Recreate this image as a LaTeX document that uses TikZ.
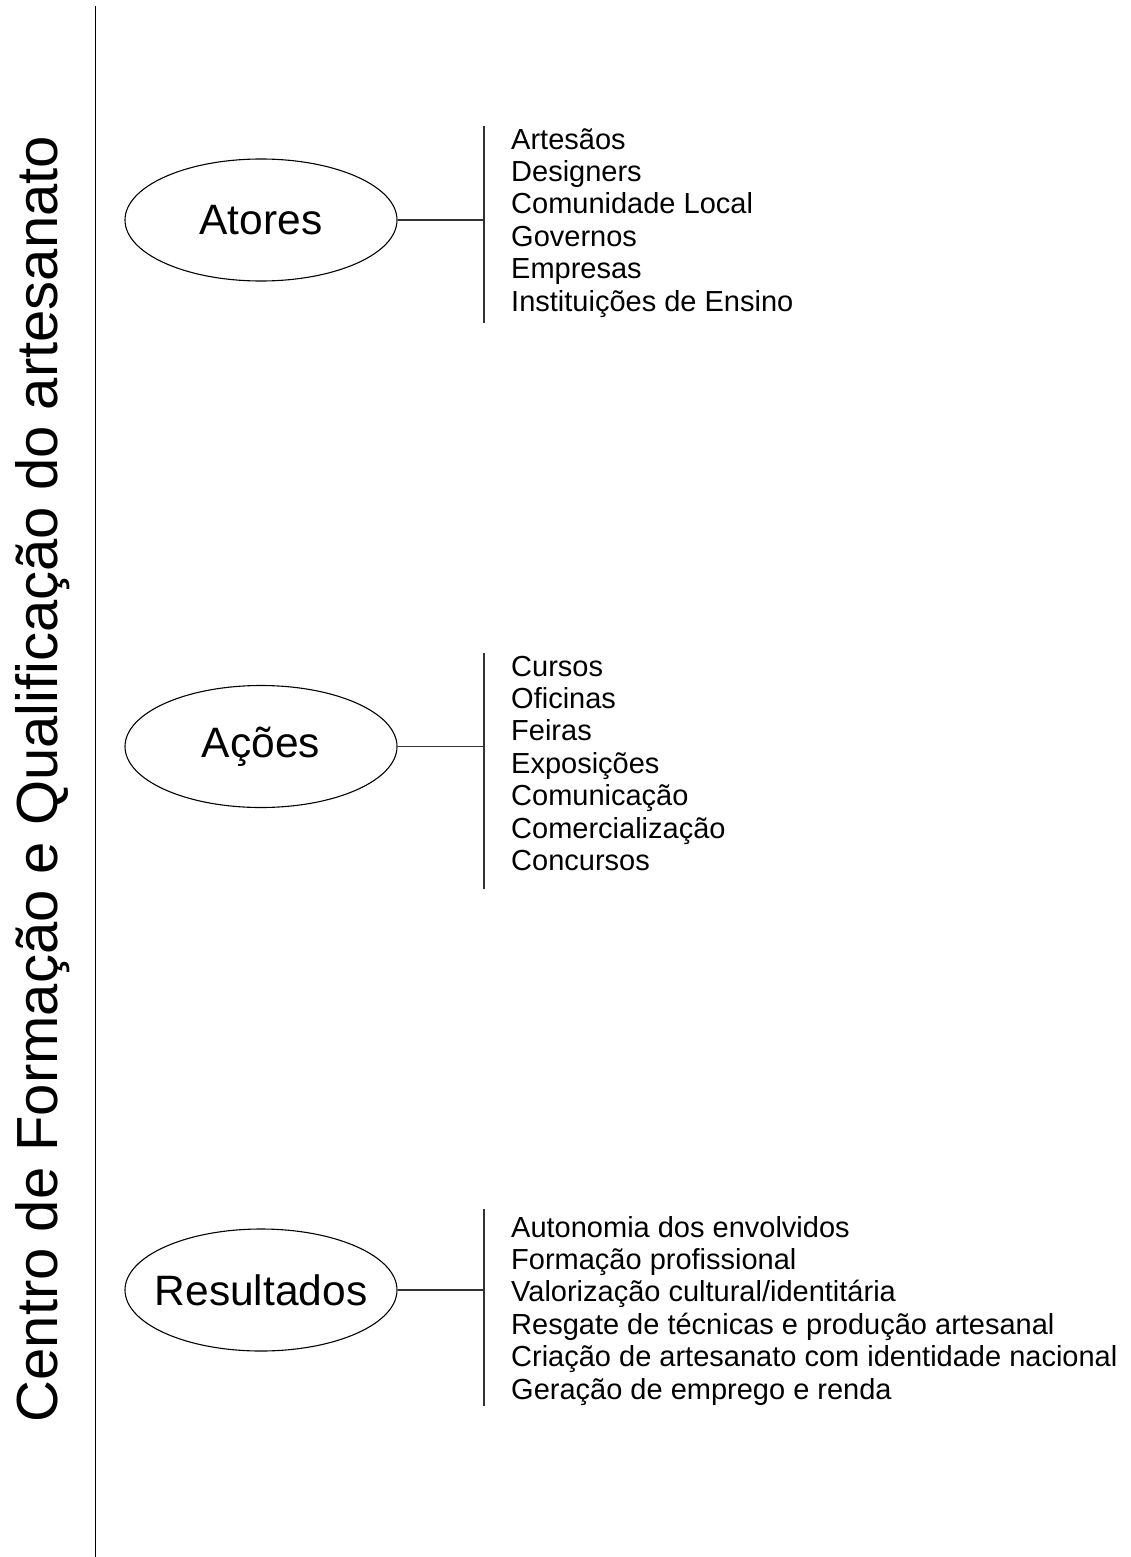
\documentclass[tikz,border=0pt]{standalone}
\usepackage{fontspec}
\setmainfont{Liberation Sans}
\usetikzlibrary{shapes.geometric}

\begin{document}
\begin{tikzpicture}[x=1pt,y=1pt,yscale=-1,
    bubble/.style={draw, ellipse, line width=1.1pt, minimum width=272pt, minimum height=122pt, inner xsep=-40pt, inner ysep=0pt, font=\fontsize{42.5}{51}\selectfont},
    itemlist/.style={anchor=base west, inner sep=0pt, align=left, font=\fontsize{29}{32.4}\selectfont},
    bar/.style={draw=black!80, line width=1.1pt}]
    \useasboundingbox (0,0) rectangle (1130,1557);

    %Straight Lines [main rail]
    \coordinate (railtop) at (95.5,6);
    \coordinate (railbot) at (95.5,1557);
    \draw [line width=1.3pt]   (railtop) -- (railbot) ;

    % Text Node [title]
    \node [rotate=90, anchor=base, inner sep=0pt, font=\fontsize{58}{70}\selectfont] (title) at (57,779) {Centro de Formação e Qualificação do artesanato};

    %Shape: Ellipse [atores]
    \node [bubble] (atores) at (261,220) {Atores};
    %Shape: Ellipse [acoes]
    \node [bubble] (acoes) at (261,746.5) {Ações};
    %Shape: Ellipse [resultados]
    \node [bubble] (resultados) at (261,1290) {Resultados};

    %Straight Lines [atores bracket]
    \coordinate (atorestop) at (484,126);
    \coordinate (atoresbot) at (484,323);
    \coordinate (atoresjoin) at (484,220);
    \draw [bar]   (atorestop) -- (atoresbot) ;
    \draw [bar]   (atores.east) -- (atoresjoin) ;
    %Straight Lines [acoes bracket]
    \coordinate (acoestop) at (484,653);
    \coordinate (acoesbot) at (484,889);
    \coordinate (acoesjoin) at (484,746.5);
    \draw [bar]   (acoestop) -- (acoesbot) ;
    \draw [bar]   (acoes.east) -- (acoesjoin) ;
    %Straight Lines [resultados bracket]
    \coordinate (resultadostop) at (484,1209);
    \coordinate (resultadosbot) at (484,1406);
    \coordinate (resultadosjoin) at (484,1290);
    \draw [bar]   (resultadostop) -- (resultadosbot) ;
    \draw [bar]   (resultados.east) -- (resultadosjoin) ;

    % Text Node (anchored at the baseline of the last line)
    \node [itemlist] (atoreslist) at (511,311) {Artesãos\\Designers\\Comunidade Local\\Governos\\Empresas\\Instituições de Ensino};
    % Text Node
    \node [itemlist] (acoeslist) at (511,870.5) {Cursos\\Oficinas\\Feiras\\Exposições\\Comunicação\\Comercialização\\Concursos};
    % Text Node
    \node [itemlist] (resultadoslist) at (511,1399) {Autonomia dos envolvidos\\Formação profissional\\Valorização cultural/identitária\\Resgate de técnicas e produção artesanal\\Criação de artesanato com identidade nacional\\Geração de emprego e renda};

\end{tikzpicture}
\end{document}
